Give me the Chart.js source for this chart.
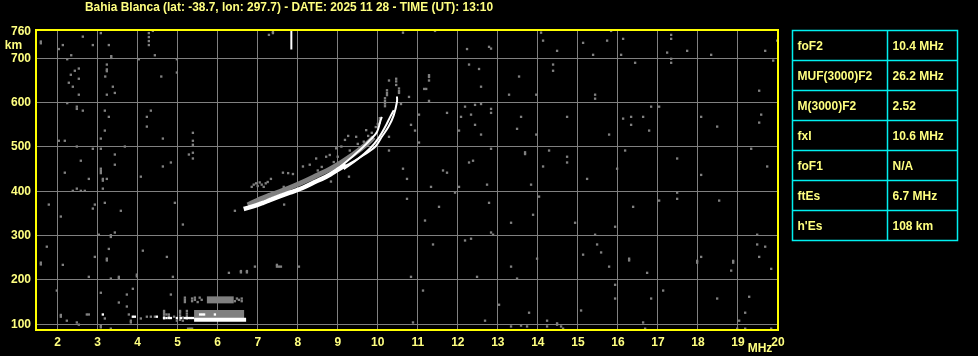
<!DOCTYPE html>
<html>
<head>
<meta charset="utf-8">
<script src="https://cdn.jsdelivr.net/npm/chart.js@4.4.1/dist/chart.umd.min.js"></script>
<style>
html,body{margin:0;padding:0;background:#000;}
#wrap{width:978px;height:356px;}
</style>
</head>
<body>
<div id="wrap"><canvas id="c" width="978" height="356"></canvas></div>
<script>
// ---------- DATA ----------
const titleText = "Bahia Blanca (lat: -38.7, lon: 297.7) - DATE: 2025 11 28 - TIME (UT): 13:10";
const xTicks = [2,3,4,5,6,7,8,9,10,11,12,13,14,15,16,17,18,19,20];
const yTicks = [100,200,300,400,500,600,700,760];
const tableLabels = ["foF2","MUF(3000)F2","M(3000)F2","fxI","foF1","ftEs","h'Es"];
const tableValues = ["10.4 MHz","26.2 MHz","2.52","10.6 MHz","N/A","6.7 MHz","108 km"];

// main (ordinary) F trace, frequency MHz / virtual height km
const traceMain = [[6.65,360],[6.88,366],[7.13,374],[7.3,380],[7.56,389],[7.8,397],[8.13,408],[8.4,420],[8.6,428],[8.81,438],[9.06,452],[9.2,460]];
const strand1 = [[9.06,455],[9.31,474],[9.6,497],[9.81,516],[9.98,534],[10.06,557],[10.1,568]];
const strand2 = [[9.15,450],[9.48,471],[9.81,497],[10.02,520],[10.19,546],[10.31,568],[10.4,583]];
const strand3 = [[9.2,458],[9.31,463],[9.65,482],[9.94,501],[10.1,523],[10.27,546],[10.4,572],[10.48,602],[10.48,614]];
const traceGrayBand = [[6.75,369],[7.0,380],[7.3,391],[7.6,401],[7.9,412],[8.2,424],[8.5,437],[8.8,450],[9.1,466],[9.4,484],[9.7,505],[9.9,522]];
const traceGrayDots = [[10.46,654],[10.46,648],[10.46,640],[10.53,632],[10.53,626],[10.53,622],[10.23,628],[10.23,622],[10.23,617],[10.18,610],[10.18,604],[10.18,598],[10.18,592],[10.28,650],[10.05,565],[10.05,560],[10.05,555],[9.71,538],[9.76,525],[9.46,523],[9.26,525],[9.18,516],[8.96,497],[9.09,501],[8.8,482],[8.71,478],[8.46,474],[8.3,460],[8.13,456],[7.88,439],[7.76,441],[9.28,433],[6.43,356],[7.66,370],[8.83,422],[6.85,410],[6.9,415],[6.96,418],[7.0,412],[7.05,420],[7.1,415],[7.15,410],[7.2,418],[7.25,421],[7.6,402],[7.65,410],[7.7,406],[7.8,404],[8.0,415],[8.5,447],[8.6,455],[8.9,466],[9.0,478],[9.3,492],[9.5,507],[9.65,512],[9.85,532],[9.95,545],[10.0,552]];
const foMarker = [[7.84,764],[7.84,720]];

// sporadic E
const esWhiteBar = [[5.41,110],[6.71,110]];
const esGrayLow = [[5.41,123],[6.66,123]];
const esGrayHigh = [[5.73,155],[6.4,155]];
const esGrayDots = [[4.66,113],[4.66,117],[4.66,122],[4.66,126],[4.66,130],[4.72,122],[4.78,117],[4.78,122],[5.06,110],[5.06,115],[5.06,120],[5.06,126],[5.06,130],[5.13,115],[5.23,113],[5.23,118],[5.23,124],[5.23,130],[5.26,90],[5.31,90],[5.36,90],[5.18,150],[5.18,155],[5.18,160],[5.36,152],[5.36,158],[5.43,155],[5.43,160],[5.5,150],[5.55,160],[5.6,155],[6.43,152],[6.48,158],[6.53,155],[6.6,152],[6.6,158],[4.91,117],[4.98,108],[5.13,108]];
const esWhiteDots = [[3.13,122],[3.88,117],[3.93,117],[4.48,117],[4.66,114],[4.72,114],[4.78,114],[4.83,114],[4.98,114],[5.08,114],[5.18,114],[5.23,114],[5.28,114],[5.33,114],[5.38,114],[5.56,122],[5.61,122],[5.66,122],[5.93,122]];

// scattered noise
const noiseGray = [
[1.58,734],[1.58,738],[2.13,730],[2.03,721],[2.63,749],[2.88,730],[2.34,707],[2.24,698],[3.08,757],[3.28,730],[3.34,701],[3.34,705],
[4.28,757],[4.28,748],[4.28,739],[4.28,730],[4.38,762],[4.43,707],[4.03,698],[4.98,698],[4.98,668],[4.59,659],[7.28,753],[7.38,760],[7.38,757],
[3.23,686],[3.23,675],[3.23,671],[3.19,659],[3.38,636],[3.43,622],[3.23,618],[2.53,677],[2.43,672],[2.33,663],[2.53,654],[2.28,645],[2.38,636],[2.53,618],
[2.24,599],[2.48,591],[2.48,586],[2.63,582],[3.18,582],[3.28,568],[3.18,537],[3.08,519],[2.03,514],[2.18,514],[2.48,501],[2.88,496],[3.08,496],[3.68,501],
[4.33,582],[4.23,568],[4.23,546],[4.63,519],[5.38,532],[5.38,514],[5.38,505],[5.28,483],[5.38,487],[5.38,474],[3.43,483],[3.43,460],[2.58,469],[3.08,451],[3.08,446],[3.08,441],
[2.18,442],[2.78,428],[3.13,428],[3.23,428],[4.63,456],[4.83,465],[4.08,433],[7.33,428],[7.63,442],
[10.63,758],[11.43,762],[12.23,721],[12.78,726],[12.83,722],[12.28,686],[12.53,676],[13.53,659],[12.58,636],[13.28,618],
[11.28,662],[11.28,658],[11.28,650],[11.21,631],[11.16,631],[11.28,604],[10.78,613],[10.58,597],[12.18,591],[12.43,595],[12.58,597],[12.83,586],[12.83,577],[11.73,577],[12.08,568],[12.33,573],[13.58,568],[11.03,573],[10.83,550],[10.93,537],[12.03,537],[12.43,550],[13.48,541],[12.58,528],[11.03,510],[10.28,523],[12.83,496],[13.68,488],[13.68,484],[10.28,492],[12.38,469],[12.28,465],[10.63,451],[11.63,447],[11.73,442],[10.73,428],
[14.08,758],[14.13,740],[14.48,717],[15.13,735],[15.83,762],[15.73,740],[15.38,708],[16.13,744],[16.08,708],[17.33,753],[17.33,744],[17.23,713],[17.73,717],[18.33,708],[19.68,717],[19.98,740],[17.33,699],[17.33,690],[16.43,690],[14.38,686],[14.38,672],[19.88,695],[19.53,627],[15.43,618],[15.43,609],[13.96,618],[16.83,591],[17.03,591],[14.73,568],[16.13,564],[16.33,568],[16.63,568],[16.33,550],[16.78,537],[15.78,528],[18.08,568],[18.48,546],[19.58,573],[19.53,555],[13.96,528],[14.28,492],[14.73,478],[14.73,465],[14.13,456],[16.18,492],[15.98,451],[15.23,428],[17.48,474],[18.08,437],[19.33,496],[19.73,456],
[11.33,410],[12.03,410],[12.73,415],[13.83,415],[11.93,397],[10.73,383],[11.53,365],[12.78,374],[14.03,388],[11.18,334],[13.33,329],[13.88,347],[12.83,307],[12.88,302],[14.93,329],[15.93,320],[16.38,365],[17.03,379],[17.48,397],[17.48,383],[18.53,379],[11.38,280],[12.18,289],[12.33,293],[15.43,302],[15.48,280],[15.58,262],[15.13,257],[16.28,248],[16.28,244],[15.78,230],[16.73,216],[13.98,248],[13.33,230],[13.48,203],[10.83,207],[12.48,207],[17.98,243],[17.98,239],[18.08,252],[18.88,243],[18.88,239],[18.83,221],[19.48,302],[19.48,280],[19.68,275],[19.53,252],[19.83,225],[11.13,176],[13.03,144],[13.78,126],[12.68,108],[10.88,104],[15.93,189],[15.93,158],[17.13,176],[16.83,158],[15.08,131],[14.23,108],[14.48,102],[14.48,99],[14.58,95],[14.63,90],[13.33,95],[13.58,97],[13.73,95],[14.23,95],[16.63,104],[16.68,90],[18.48,158],[19.28,162],[19.18,126],[19.03,108],[18.98,90],[19.18,90],[19.83,90],
[2.48,406],[2.38,401],[2.58,401],[2.68,401],[3.13,424],[3.13,406],[1.78,370],[2.93,370],[2.88,361],[3.18,374],[3.58,356],[2.08,343],[4.93,374],[5.13,325],[3.03,302],[3.33,301],[3.33,297],[3.43,307],[1.73,275],[3.28,270],[2.93,252],[3.23,248],[3.23,244],[4.13,266],[4.73,252],[1.58,239],[1.58,235],[2.13,234],[2.78,207],[3.33,203],[3.53,207],[3.53,203],[3.98,212],[3.98,208],[4.88,207],[6.28,216],[6.58,220],[6.58,217],[6.73,220],[6.73,217],[6.93,230],[7.48,234],[7.48,230],[7.53,230],[7.58,230],[8.03,230],[1.98,176],[3.08,171],[3.88,180],[3.73,167],[3.53,149],[3.73,140],[4.83,167],[2.08,121],[2.08,117],[2.23,108],[2.48,104],[2.53,99],[2.73,122],[2.78,122],[3.18,113],[3.08,97],[3.08,93],[3.33,90],[3.78,122],[3.83,108],[3.83,104],[4.08,113],[4.23,117],[4.33,117],[4.43,117]
];

// ---------- STYLE ----------
const YEL = '#ffff80';
const GRAY = '#808080';
const CYAN = '#00f0f0';
const FONT = "'Liberation Sans', Arial, sans-serif";

const toXY = a => a.map(p => ({x:p[0], y:p[1]}));
function lineDs(data, color, width, order){
  return {type:'scatter', data:toXY(data), showLine:true, borderColor:color, borderWidth:width,
          pointRadius:0, pointHoverRadius:0, tension:0.35, borderCapStyle:'butt', order:order, fill:false};
}
function dotDs(data, color, order){
  return {type:'scatter', data:toXY(data), pointStyle:'rect', pointRadius:1.65, pointHoverRadius:1.65,
          backgroundColor:color, borderWidth:0, order:order};
}

const decor = {
  id:'decor',
  beforeDraw(chart){
    const c = chart.ctx;
    c.save(); c.fillStyle = '#000'; c.fillRect(0,0,chart.width,chart.height); c.restore();
  },
  afterDraw(chart){
    const c = chart.ctx, a = chart.chartArea;
    c.save();
    // plot frame
    c.strokeStyle = '#ffff00'; c.lineWidth = 2;
    c.strokeRect(a.left, a.top, a.right - a.left, a.bottom - a.top);
    // title
    c.fillStyle = YEL; c.font = "bold 12px " + FONT; c.textBaseline = 'middle'; c.textAlign = 'left';
    c.fillText(titleText, 85, 7.5, 408);
    // units
    c.textAlign = 'center';
    c.fillText('km', 13.5, 46);
    c.fillText('MHz', 760, 349);
    // table
    const tx0 = 792.5, tx1 = 957.5, tmid = 887.5, ty0 = 30.5, rh = 30;
    c.strokeStyle = CYAN; c.lineWidth = 1.5;
    c.strokeRect(tx0, ty0, tx1 - tx0, rh * tableLabels.length);
    c.beginPath();
    for (let i = 1; i < tableLabels.length; i++){ c.moveTo(tx0, ty0 + i*rh); c.lineTo(tx1, ty0 + i*rh); }
    c.moveTo(tmid, ty0); c.lineTo(tmid, ty0 + rh*tableLabels.length);
    c.stroke();
    c.fillStyle = YEL; c.textAlign = 'left';
    tableLabels.forEach((t,i) => {
      const yy = ty0 + i*rh + rh/2 + 1;
      c.fillText(t, 797.5, yy);
      c.fillText(tableValues[i], 892.5, yy);
    });
    c.restore();
  }
};

Chart.defaults.font.family = FONT;
Chart.defaults.font.weight = 'bold';
Chart.defaults.font.size = 12;
Chart.defaults.color = YEL;

new Chart(document.getElementById('c'), {
  type:'scatter',
  data:{datasets:[
    lineDs(foMarker, '#ffffff', 2, 0),
    lineDs(strand1, '#ffffff', 2, 1),
    lineDs(strand2, '#ffffff', 2, 1),
    lineDs(strand3, '#ffffff', 2, 1),
    lineDs(traceMain, '#ffffff', 4.5, 1),
    dotDs(esWhiteDots, '#ffffff', 2),
    lineDs(esWhiteBar, '#ffffff', 4, 2),
    lineDs(traceGrayBand, GRAY, 5, 4),
    dotDs(traceGrayDots, GRAY, 4),
    lineDs(esGrayLow, GRAY, 8, 4),
    lineDs(esGrayHigh, GRAY, 7, 4),
    dotDs(esGrayDots, GRAY, 4),
    dotDs(noiseGray, GRAY, 5)
  ]},
  options:{
    responsive:false, animation:false, devicePixelRatio:1,
    layout:{padding:{left:0, top:30, right:200, bottom:0}},
    plugins:{legend:{display:false}, tooltip:{enabled:false}},
    events:[],
    scales:{
      x:{type:'linear', min:1.46, max:20,
         afterBuildTicks:s => { s.ticks = xTicks.map(v => ({value:v})); },
         afterFit:s => { s.height = 26; },
         grid:{color:ctx => (ctx.tick && ctx.tick.value === 20) ? 'rgba(0,0,0,0)' : GRAY, lineWidth:1, drawTicks:false},
         border:{display:false},
         ticks:{autoSkip:false, maxRotation:0, padding:5, color:YEL, font:{size:12, weight:'bold'},
                callback:v => String(v)}
      },
      y:{type:'linear', min:87, max:764,
         afterBuildTicks:s => { s.ticks = yTicks.map(v => ({value:v})); },
         afterFit:s => { s.width = 36; },
         grid:{color:ctx => (ctx.tick && ctx.tick.value === 760) ? 'rgba(0,0,0,0)' : GRAY, lineWidth:1, drawTicks:false},
         border:{display:false},
         ticks:{autoSkip:false, padding:5, color:YEL, font:{size:12, weight:'bold'}}
      }
    }
  },
  plugins:[decor]
});
</script>
</body>
</html>
